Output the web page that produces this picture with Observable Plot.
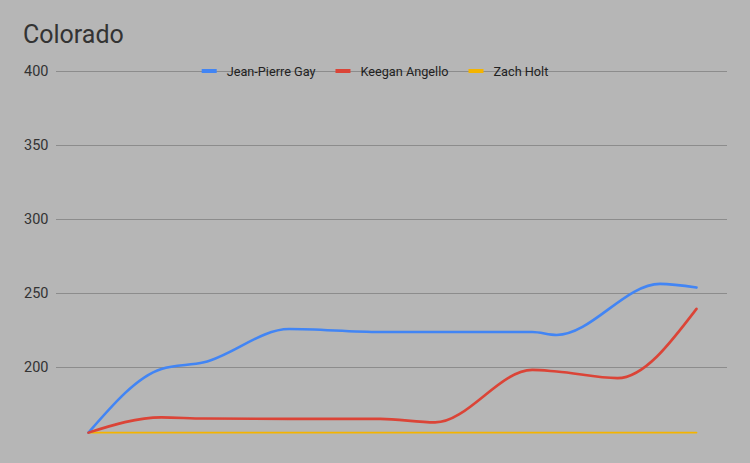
<!DOCTYPE html>
<html>
<head>
<meta charset="utf-8">
<script src="https://cdn.jsdelivr.net/npm/d3@7"></script>
<script src="https://cdn.jsdelivr.net/npm/@observablehq/plot@0.6"></script>
<style>
  html, body { margin: 0; padding: 0; background: #b6b6b6; }
  #chart { width: 750px; height: 463px; }
</style>
</head>
<body>
<div id="chart"></div>
<script>
const title = "Colorado";
const seriesNames = ["Jean-Pierre Gay", "Keegan Angello", "Zach Holt"];
const colors = ["#4285f4", "#db4437", "#f4b400"];
// x positions (relative time units, axis hidden in the original)
const jeanPierreX = [0, 12, 19, 33, 48, 73, 77, 94, 100];
const jeanPierre  = [156, 199, 203.5, 226, 224, 224, 222, 256.5, 254];
const keeganX     = [0, 12, 19, 33, 48, 57, 73, 77, 87, 100];
const keegan      = [156, 166.3, 165.5, 165.3, 165.3, 162.9, 198.4, 197.3, 192.8, 239.6];
const zachX       = [0, 100];
const zach        = [156, 156];
const yTicks = [200, 250, 300, 350, 400];

const seriesX = [jeanPierreX, keeganX, zachX];
const seriesValues = [jeanPierre, keegan, zach];
const data = seriesNames.flatMap((name, i) =>
  seriesX[i].map((x, j) => ({ series: name, x, value: seriesValues[i][j] }))
);

const chart = Plot.plot({
  width: 750,
  height: 463,
  marginTop: 71,
  marginBottom: 22,
  marginLeft: 56,
  marginRight: 23,
  style: { background: "#b6b6b6", fontFamily: "Roboto", fontSize: "14.5px", color: "#333" },
  x: { domain: [-5.26, 105.1], axis: null },
  y: { domain: [150, 400], ticks: yTicks, tickSize: 0, tickPadding: 8, label: null, grid: false },
  color: { domain: seriesNames, range: colors },
  marks: [
    Plot.gridY(yTicks, { stroke: "#8c8c8c", strokeOpacity: 1, strokeWidth: 1 }),
    Plot.axisY(yTicks, { tickSize: 0, tickPadding: 8, label: null, fill: "#333", fontSize: 14.5 }),
    Plot.line(data.filter(d => d.series === "Zach Holt"), {
      x: "x", y: "value", stroke: "series", strokeWidth: 1.8
    }),
    Plot.line(data.filter(d => d.series !== "Zach Holt"), {
      x: "x", y: "value", z: "series", stroke: "series", strokeWidth: 2.6, curve: "monotone-x"
    })
  ]
});

document.getElementById("chart").appendChild(chart);

// Title and legend drawn into the same SVG
const svg = d3.select(chart);
svg.append("text")
  .attr("x", 23).attr("y", 43)
  .attr("text-anchor", "start")
  .attr("font-family", "Roboto").attr("font-size", 25)
  .attr("fill", "#333")
  .text(title);

const legend = svg.append("g")
  .attr("font-family", "Roboto").attr("font-size", 13.5)
  .attr("text-anchor", "start").attr("fill", "#222");
const swW = 15, swGap = 10, itemGap = 20, squeeze = 0.94;
const items = seriesNames.map((name, i) => {
  const g = legend.append("g");
  g.append("rect").attr("width", swW).attr("height", 4).attr("y", -2).attr("fill", colors[i]);
  const t = g.append("text").attr("x", swW + swGap).attr("dy", "0.35em").text(name);
  const natural = t.node().getComputedTextLength();
  const w = natural * squeeze;
  t.attr("textLength", w).attr("lengthAdjust", "spacingAndGlyphs");
  return { g, w: swW + swGap + w };
});
const total = d3.sum(items, d => d.w) + itemGap * (items.length - 1);
let cx = 750 / 2 - total / 2;
items.forEach(it => {
  it.g.attr("transform", `translate(${cx},71)`);
  cx += it.w + itemGap;
});
</script>
</body>
</html>
